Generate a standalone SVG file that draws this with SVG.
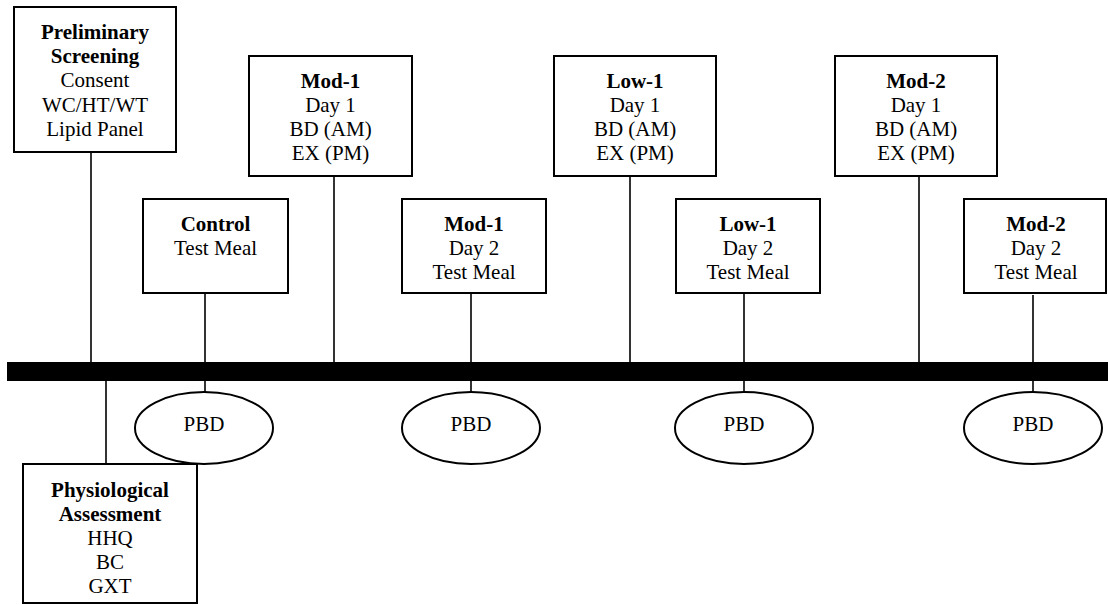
<svg xmlns="http://www.w3.org/2000/svg" width="1108" height="605" viewBox="0 0 1108 605">
<style>
.box{fill:#fff;stroke:#000;stroke-width:2}
.ell{fill:#fff;stroke:#000;stroke-width:2}
.ln{stroke:#000;stroke-width:1.6;fill:none}
text{font-family:"Liberation Serif","Times New Roman",serif;font-size:21px;fill:#000;text-anchor:middle}
.b{font-weight:bold}
</style>
<rect width="1108" height="605" fill="#fff"/>
<g id="connectors">
<line class="ln" x1="91" y1="152" x2="91" y2="362"/>
<line class="ln" x1="205" y1="293" x2="205" y2="392"/>
<line class="ln" x1="334" y1="176" x2="334" y2="362"/>
<line class="ln" x1="471" y1="293" x2="471" y2="392"/>
<line class="ln" x1="630" y1="176" x2="630" y2="362"/>
<line class="ln" x1="744" y1="293" x2="744" y2="392"/>
<line class="ln" x1="919" y1="176" x2="919" y2="362"/>
<line class="ln" x1="1033" y1="295" x2="1033" y2="392"/>
<line class="ln" x1="106" y1="381" x2="106" y2="464"/>
</g>
<g id="timeline">
<rect x="7" y="362" width="1101" height="19" fill="#000"/>
</g>
<g id="prelim">
<rect class="box" x="14" y="7" width="162" height="145"/>
<text x="95" y="39" class="b">Preliminary</text>
<text x="95" y="63" class="b">Screening</text>
<text x="95" y="87">Consent</text>
<text x="95" y="112">WC/HT/WT</text>
<text x="95" y="136">Lipid Panel</text>
</g>
<g id="control">
<rect class="box" x="143" y="199" width="145" height="94"/>
<text x="215.5" y="231" class="b">Control</text>
<text x="215.5" y="255">Test Meal</text>
</g>
<g id="mod1day1">
<rect class="box" x="249" y="56" width="163" height="120"/>
<text x="330.5" y="88" class="b">Mod-1</text>
<text x="330.5" y="112">Day 1</text>
<text x="330.5" y="136">BD (AM)</text>
<text x="330.5" y="160">EX (PM)</text>
</g>
<g id="mod1day2">
<rect class="box" x="402" y="199" width="144" height="94"/>
<text x="474" y="231" class="b">Mod-1</text>
<text x="474" y="255">Day 2</text>
<text x="474" y="279">Test Meal</text>
</g>
<g id="low1day1">
<rect class="box" x="554" y="56" width="162" height="120"/>
<text x="635" y="88" class="b">Low-1</text>
<text x="635" y="112">Day 1</text>
<text x="635" y="136">BD (AM)</text>
<text x="635" y="160">EX (PM)</text>
</g>
<g id="low1day2">
<rect class="box" x="676" y="199" width="144" height="94"/>
<text x="748" y="231" class="b">Low-1</text>
<text x="748" y="255">Day 2</text>
<text x="748" y="279">Test Meal</text>
</g>
<g id="mod2day1">
<rect class="box" x="835" y="56" width="162" height="120"/>
<text x="916" y="88" class="b">Mod-2</text>
<text x="916" y="112">Day 1</text>
<text x="916" y="136">BD (AM)</text>
<text x="916" y="160">EX (PM)</text>
</g>
<g id="mod2day2">
<rect class="box" x="964" y="199" width="142" height="94"/>
<text x="1036" y="231" class="b">Mod-2</text>
<text x="1036" y="255">Day 2</text>
<text x="1036" y="279">Test Meal</text>
</g>
<g id="pbd1">
<ellipse class="ell" cx="204" cy="428" rx="69" ry="36"/>
<text x="204" y="431">PBD</text>
</g>
<g id="pbd2">
<ellipse class="ell" cx="471" cy="428" rx="69" ry="36"/>
<text x="471" y="431">PBD</text>
</g>
<g id="pbd3">
<ellipse class="ell" cx="744" cy="428" rx="69" ry="36"/>
<text x="744" y="431">PBD</text>
</g>
<g id="pbd4">
<ellipse class="ell" cx="1033" cy="428" rx="69" ry="36"/>
<text x="1033" y="431">PBD</text>
</g>
<g id="physio">
<rect class="box" x="23" y="464" width="174" height="139"/>
<text x="110" y="497" class="b">Physiological</text>
<text x="110" y="521" class="b">Assessment</text>
<text x="110" y="545">HHQ</text>
<text x="110" y="569">BC</text>
<text x="110" y="593">GXT</text>
</g>
</svg>
